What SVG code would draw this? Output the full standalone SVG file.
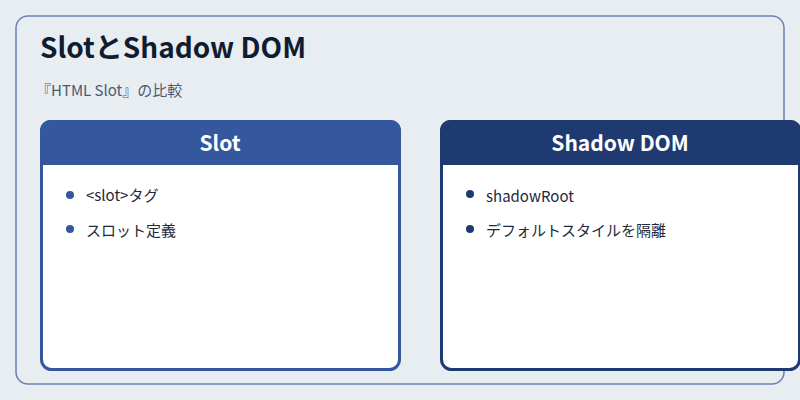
<svg xmlns="http://www.w3.org/2000/svg" width="800" height="400" viewBox="0 0 800 400">
<style>
text{font-family:"Noto Sans CJK JP","Noto Sans",sans-serif}
.h{font-size:21px;font-weight:bold;fill:#fff;text-anchor:middle}
.i{font-size:15px;fill:#1e2a3c}
</style>
<rect width="800" height="400" fill="#e8edf2"/>
<rect x="16" y="16" width="768" height="368" rx="12" fill="none" stroke="#6a80ad" stroke-width="1.5"/>
<text x="40" y="58" font-size="28" font-weight="bold" fill="#101c30">SlotとShadow DOM</text>
<text x="36" y="96" font-size="15" fill="#4a5a75">『HTML Slot』の比較</text>
<g id="slot">
<rect x="41.5" y="121.5" width="358" height="248" rx="10" fill="#fff" stroke="#34579e" stroke-width="3"/>
<path d="M40 165 V130 a10 10 0 0 1 10 -10 H391 a10 10 0 0 1 10 10 V165 Z" fill="#34579e"/>
<text class="h" x="220" y="151">Slot</text>
<circle cx="70" cy="195" r="4" fill="#34579e"/><text class="i" x="86" y="201">&lt;slot&gt;タグ</text>
<circle cx="70" cy="229" r="4" fill="#34579e"/><text class="i" x="86" y="236">スロット定義</text>
</g>
<g id="shadow">
<rect x="441.5" y="121.5" width="358" height="248" rx="10" fill="#fff" stroke="#1f3a70" stroke-width="3"/>
<path d="M440 165 V130 a10 10 0 0 1 10 -10 H791 a10 10 0 0 1 10 10 V165 Z" fill="#1f3a70"/>
<text class="h" x="620" y="151">Shadow DOM</text>
<circle cx="470" cy="194" r="4" fill="#1f3a70"/><text class="i" x="486" y="202">shadowRoot</text>
<circle cx="470" cy="229" r="4" fill="#1f3a70"/><text class="i" x="486" y="236">デフォルトスタイルを隔離</text>
</g>
<g id="connectors"/>
</svg>
